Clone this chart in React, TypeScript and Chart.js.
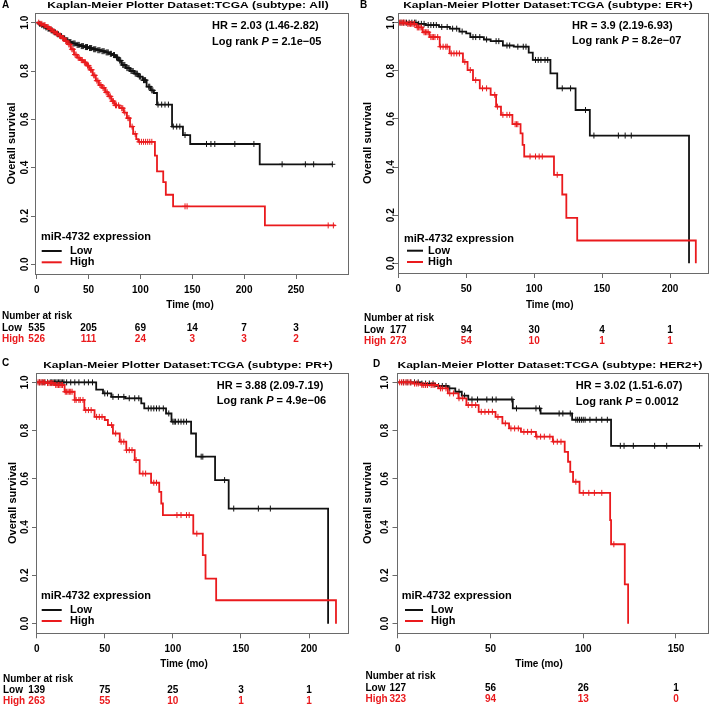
import React, { useEffect, useRef } from "react";
import { Chart, registerables } from "chart.js";
Chart.register(...registerables);

const FONT = "'Liberation Sans', Arial, Helvetica, sans-serif";
const BLACK = "#111111";
const RED = "#ea1a1d";
const AXIS = "#6a6a6a";

// ---------------- tick labels ----------------
const yTicks = [0, 0.2, 0.4, 0.6, 0.8, 1.0];
const yTickLabels = ["0.0", "0.2", "0.4", "0.6", "0.8", "1.0"];
const xTicksA = [0, 50, 100, 150, 200, 250];
const xTicksB = [0, 50, 100, 150, 200];
const xTicksC = [0, 50, 100, 150, 200];
const xTicksD = [0, 50, 100, 150];

// ---------------- texts ----------------
const letters = ["A", "B", "C", "D"];
const titles = [
  "Kaplan-Meier Plotter Dataset:TCGA (subtype: All)",
  "Kaplan-Meier Plotter Dataset:TCGA (subtype: ER+)",
  "Kaplan-Meier Plotter Dataset:TCGA (subtype: PR+)",
  "Kaplan-Meier Plotter Dataset:TCGA (subtype: HER2+)",
];
const hrTexts = ["HR = 2.03 (1.46-2.82)", "HR = 3.9 (2.19-6.93)", "HR = 3.88 (2.09-7.19)", "HR = 3.02 (1.51-6.07)"];
const pValues = ["2.1e\u221205", "8.2e\u221207", "4.9e\u221206", "0.0012"];
const groups = ["Low", "High"];

// ---------------- Panel A ----------------
const timesLowA = [0, 2, 4, 6, 8, 10, 13, 16, 19, 22, 25, 28, 31, 34, 38, 42, 46, 50, 54, 58, 62, 66, 70, 73, 76, 79, 82, 86, 90, 94, 98, 102, 106, 110, 113, 116, 130.5, 141, 148, 215, 285];
const survLowA = [1, 0.995, 0.99, 0.985, 0.98, 0.975, 0.968, 0.96, 0.952, 0.944, 0.935, 0.927, 0.92, 0.914, 0.908, 0.903, 0.899, 0.895, 0.89, 0.886, 0.882, 0.877, 0.871, 0.866, 0.856, 0.843, 0.825, 0.812, 0.8, 0.789, 0.777, 0.762, 0.735, 0.72, 0.709, 0.661, 0.57, 0.535, 0.498, 0.414, 0.414];
const censorLowA = [3, 5, 7, 9, 11, 12, 14, 15, 17, 18, 20, 21, 23, 24, 26, 27, 29, 30, 32, 33, 35, 36, 37, 39, 40, 41, 43, 44, 45, 47, 48, 49, 51, 52, 53, 55, 56, 57, 59, 60, 61, 63, 64, 65, 67, 68, 69, 71, 72, 74, 75, 77, 78, 80, 81, 83, 84, 85, 87, 88, 89, 91, 92, 93, 95, 96, 97, 99, 100, 103, 104, 105, 108, 109, 111, 112, 117, 120.5, 123.7, 127, 131.7, 135, 138, 143, 163.7, 168, 171.7, 191, 209.4, 236.6, 259, 267, 285];
const timesHighA = [0, 3, 6, 9, 12, 15, 18, 21, 24, 27, 30, 33, 36, 39, 42, 45, 48, 51, 54, 57, 60, 63, 66, 69, 72, 75, 80, 84, 87, 90, 93, 96, 98, 114, 116, 122, 124.5, 131.5, 220, 288];
const survHighA = [1, 0.995, 0.99, 0.982, 0.973, 0.963, 0.955, 0.946, 0.936, 0.924, 0.91, 0.89, 0.868, 0.855, 0.845, 0.836, 0.822, 0.805, 0.782, 0.76, 0.742, 0.73, 0.712, 0.695, 0.675, 0.658, 0.646, 0.628, 0.605, 0.57, 0.54, 0.518, 0.507, 0.45, 0.385, 0.34, 0.288, 0.24, 0.161, 0.161];
const censorHighA = [2, 4, 5, 7, 8, 10, 11, 13, 14, 16, 17, 19, 20, 22, 23, 25, 26, 28, 29, 31, 32, 34, 35, 37, 38, 40, 41, 43, 44, 46, 47, 49, 50, 52, 53, 55, 56, 58, 59, 61, 62, 64, 65, 67, 68, 70, 71, 73, 74, 76, 77, 79, 82, 83, 85, 88, 89, 92, 95, 99, 101, 103, 105, 107, 109, 111, 143, 145, 281, 286];
const riskLowA = [535, 205, 69, 14, 7, 3];
const riskHighA = [526, 111, 24, 3, 3, 2];

// ---------------- Panel B ----------------
const timesLowB = [0, 14, 20, 30, 38, 45, 50, 53, 63, 68, 77, 85, 96, 99, 112, 117, 130.5, 141, 214];
const survLowB = [1, 0.995, 0.99, 0.982, 0.975, 0.963, 0.955, 0.94, 0.93, 0.923, 0.905, 0.9, 0.875, 0.845, 0.789, 0.727, 0.637, 0.531, 0];
const censorLowB = [2, 4, 6, 8, 10, 12, 13, 15, 17, 19, 22, 24, 26, 28, 32, 36, 40, 43, 47, 55, 57, 60, 65, 72, 74, 80, 82, 88, 92, 94, 101, 103, 105, 108, 110, 120.7, 126.8, 137.8, 144, 162, 167, 171.5];
const timesHighB = [0, 6, 13.4, 18, 23, 30.5, 37.8, 47.6, 51, 55, 60, 68, 72, 75.6, 84, 90, 91.5, 92.7, 114.6, 120.7, 123.7, 131.7, 219];
const survHighB = [1, 0.995, 0.98, 0.96, 0.94, 0.9, 0.872, 0.837, 0.803, 0.761, 0.727, 0.7, 0.651, 0.617, 0.578, 0.54, 0.492, 0.444, 0.368, 0.286, 0.189, 0.095, 0];
const censorHighB = [1, 2, 3, 4, 5, 7, 8, 9, 10, 11, 12, 14, 15, 16, 17, 19, 20, 21, 22, 24, 25, 26, 27, 29, 31, 33, 35, 36, 39, 41, 43, 45, 49, 53, 57, 62, 65, 71, 73, 77, 80, 82, 86, 87, 88, 97, 101, 103.7, 106, 117];
const riskLowB = [177, 94, 30, 4, 1];
const riskHighB = [273, 54, 10, 1, 1];

// ---------------- Panel C ----------------
const timesLowC = [0, 43.7, 48.7, 54.8, 65, 76.8, 79, 95, 99, 113.4, 117, 131, 141, 214];
const survLowC = [1, 0.97, 0.954, 0.94, 0.934, 0.913, 0.892, 0.871, 0.837, 0.788, 0.692, 0.595, 0.477, 0];
const censorLowC = [2, 4, 6, 8, 10, 11, 12, 13, 14, 15, 16, 17, 18, 19, 20, 22, 25, 28, 31, 35, 38, 41, 50, 52, 56, 60, 64, 68, 72, 75, 82, 84, 86, 88, 90, 93, 97, 100, 101, 102, 104, 106, 108, 110, 120.8, 122, 138, 144.7, 162.8, 171.6];
const timesHighC = [0, 7, 13, 20.5, 27.9, 35, 42.5, 50, 52.3, 56, 61, 65.8, 72, 75.6, 84, 90, 91.5, 92.7, 115, 122, 124, 131.8, 219.8];
const survHighC = [1, 0.997, 0.989, 0.961, 0.927, 0.885, 0.857, 0.844, 0.823, 0.788, 0.754, 0.719, 0.678, 0.622, 0.584, 0.546, 0.498, 0.45, 0.373, 0.284, 0.187, 0.097, 0];
const censorHighC = [1, 2, 3, 4, 5, 6, 8, 9, 10, 11, 12, 14, 15, 16, 17, 18, 19, 21, 22, 23, 24, 25, 26, 28, 29, 31, 32, 34, 36, 38, 40, 44, 46, 48, 55, 58, 62, 64, 66, 68, 70, 73, 78, 80, 86, 88, 103, 106, 110, 112, 117.6];
const riskLowC = [139, 75, 25, 3, 1];
const riskHighC = [263, 55, 10, 1, 1];

// ---------------- Panel D ----------------
const timesLowD = [0, 12.7, 20, 27, 31, 34.5, 38, 62, 77, 94, 115, 162.7];
const survLowD = [1, 0.995, 0.985, 0.975, 0.961, 0.945, 0.929, 0.892, 0.871, 0.845, 0.737, 0.737];
const censorLowD = [3, 5, 7, 9, 11, 13, 15, 17, 19, 22, 24, 26, 28, 33, 36, 40, 43, 48, 51, 53, 61.5, 64, 74.5, 76.4, 87, 89, 93, 96, 97, 98, 99, 100, 101, 103.6, 107, 110, 113, 120, 122, 127, 138.5, 145, 162.7];
const timesHighD = [0, 8, 12.7, 21.8, 27, 32.7, 37, 43.6, 52.7, 56.4, 60, 66.4, 74.5, 83.6, 90, 91.8, 93, 94.5, 98, 114.5, 115, 122.4, 124.2];
const survHighD = [1, 0.995, 0.989, 0.975, 0.954, 0.934, 0.906, 0.878, 0.857, 0.83, 0.809, 0.795, 0.775, 0.754, 0.712, 0.671, 0.629, 0.588, 0.542, 0.429, 0.329, 0.163, 0];
const censorHighD = [1, 2, 3, 4, 5, 6, 7, 9, 10, 11, 13, 14, 15, 16, 18, 19, 20, 23, 24, 26, 28, 30, 33, 35, 38, 40, 42, 45, 47, 49, 51, 54, 58, 61, 63, 65, 68, 70, 72, 75, 77, 79, 82, 84, 86, 88, 96, 100, 103, 106, 110, 116.5];
const riskLowD = [127, 56, 26, 1];
const riskHighD = [323, 94, 13, 0];

const panelData = [
  { xTicks: xTicksA, tl: timesLowA, sl: survLowA, cl: censorLowA, th: timesHighA, sh: survHighA, ch: censorHighA, rl: riskLowA, rh: riskHighA },
  { xTicks: xTicksB, tl: timesLowB, sl: survLowB, cl: censorLowB, th: timesHighB, sh: survHighB, ch: censorHighB, rl: riskLowB, rh: riskHighB },
  { xTicks: xTicksC, tl: timesLowC, sl: survLowC, cl: censorLowC, th: timesHighC, sh: survHighC, ch: censorHighC, rl: riskLowC, rh: riskHighC },
  { xTicks: xTicksD, tl: timesLowD, sl: survLowD, cl: censorLowD, th: timesHighD, sh: survHighD, ch: censorHighD, rl: riskLowD, rh: riskHighD },
];

// ---------------- layout (positions only) ----------------
const layouts = [
  { left: 0, top: 0, w: 355, h: 350, area: { l: 35, r: 348, t: 13, b: 274 }, xMin: -1.6, xMax: 300.1,
    letter: [2, 5.5], title: [188, 5.5], hr: [212, 26, 42], yTickX: 25, yLabX: 12,
    leg: { x: 41, y: 237, l1: 41.7, l2: 61.7, tx: 70, lowY: 251, highY: 262.3 },
    time: [190, 305.5], nar: { x: 2, y: 316.7, low: 328, high: 339.3 } },
  { left: 355, top: 0, w: 354, h: 350, area: { l: 43, r: 352.5, t: 13, b: 273 }, xMin: -0.2, xMax: 227.6,
    letter: [5, 5.5], title: [193, 5.5], hr: [217, 26, 41], yTickX: 36, yLabX: 13,
    leg: { x: 49, y: 239, l1: 52, l2: 68, tx: 73, lowY: 250.7, highY: 262 },
    time: [194.7, 305.7], nar: { x: 9, y: 318, low: 330, high: 341.3 } },
  { left: 0, top: 350, w: 355, h: 357, area: { l: 36, r: 347.7, t: 22.7, b: 283.3 }, xMin: -0.5, xMax: 228.4,
    letter: [2, 13.3], title: [188, 15], hr: [216.7, 36, 50.7], yTickX: 25, yLabX: 13,
    leg: { x: 41, y: 245.7, l1: 41.7, l2: 61.7, tx: 70, lowY: 260, highY: 271 },
    time: [184, 314], nar: { x: 3, y: 329, low: 340.3, high: 351.3 } },
  { left: 355, top: 350, w: 354, h: 357, area: { l: 41.5, r: 352.5, t: 22.7, b: 283.3 }, xMin: -0.7, xMax: 167,
    letter: [18, 14], title: [195, 15], hr: [220.7, 36, 51.7], yTickX: 30, yLabX: 13,
    leg: { x: 46.7, y: 246, l1: 50, l2: 68, tx: 76, lowY: 260, highY: 271 },
    time: [184, 314], nar: { x: 10.5, y: 326.7, low: 338, high: 349 } },
];

function survAt(times: number[], surv: number[], t: number) {
  let s = surv[0];
  for (let i = 0; i < times.length; i++) if (times[i] <= t) s = surv[i];
  return s;
}

const bold = (size: number) => `bold ${size}px ${FONT}`;

function Panel({ idx }: { idx: number }) {
  const ref = useRef<HTMLCanvasElement>(null);
  const L = layouts[idx];
  useEffect(() => {
    const D = panelData[idx];
    const stepLine = (times: number[], surv: number[], color: string, order: number) => ({
      data: times.map((t, i) => ({ x: t, y: surv[i] })),
      showLine: true,
      stepped: "before",
      borderColor: color,
      backgroundColor: color,
      borderWidth: 1.8,
      pointRadius: 0,
      pointHoverRadius: 0,
      fill: false,
      order,
    });
    const marks = (cens: number[], times: number[], surv: number[], color: string, order: number) => ({
      data: cens.map((t) => ({ x: t, y: survAt(times, surv, t) })),
      showLine: false,
      pointStyle: "cross",
      pointRadius: 3,
      pointHoverRadius: 3,
      pointBorderWidth: 1,
      borderColor: color,
      backgroundColor: color,
      order,
    });

    const text = (ctx: CanvasRenderingContext2D, s: string, x: number, y: number, font: string, color: string, align: CanvasTextAlign) => {
      ctx.font = font;
      ctx.fillStyle = color;
      ctx.textAlign = align;
      ctx.textBaseline = "middle";
      ctx.fillText(s, x, y);
    };

    const kmPlugin = {
      id: "kmText",
      afterDraw(chart: any) {
        const ctx: CanvasRenderingContext2D = chart.ctx;
        const { left, right, top, bottom } = chart.chartArea;
        const xs = chart.scales.x;
        const ys = chart.scales.y;
        ctx.save();
        // box
        ctx.strokeStyle = AXIS;
        ctx.lineWidth = 1;
        ctx.strokeRect(Math.round(left) + 0.5, Math.round(top) + 0.5, Math.round(right) - Math.round(left), Math.round(bottom) - Math.round(top));
        // y tick labels (rotated)
        yTicks.forEach((v, i) => {
          ctx.save();
          ctx.translate(L.yTickX, ys.getPixelForValue(v));
          ctx.rotate(-Math.PI / 2);
          text(ctx, yTickLabels[i], 0, 0, bold(10), "#000", "center");
          ctx.restore();
        });
        // y axis title
        ctx.save();
        ctx.translate(L.yLabX, (top + bottom) / 2);
        ctx.rotate(-Math.PI / 2);
        text(ctx, "Overall survival", 0, 0, bold(11), "#000", "center");
        ctx.restore();
        // letter & title (title slightly squashed vertically like the source)
        text(ctx, letters[idx], L.letter[0], L.letter[1], bold(10), "#000", "left");
        ctx.save();
        ctx.translate(L.title[0], L.title[1]);
        ctx.scale(1, 0.8);
        text(ctx, titles[idx], 0, 0, bold(12), "#000", "center");
        ctx.restore();
        // HR and log rank
        text(ctx, hrTexts[idx], L.hr[0], L.hr[1], bold(11), "#000", "left");
        let x = L.hr[0];
        const parts: [string, string][] = [
          ["Log rank ", bold(11)],
          ["P", `italic bold 11px ${FONT}`],
          [" = " + pValues[idx], bold(11)],
        ];
        parts.forEach(([s, f]) => {
          text(ctx, s, x, L.hr[2], f, "#000", "left");
          ctx.font = f;
          x += ctx.measureText(s).width;
        });
        // legend
        text(ctx, "miR-4732 expression", L.leg.x, L.leg.y, bold(11), "#000", "left");
        ctx.lineWidth = 2;
        ctx.strokeStyle = BLACK;
        ctx.beginPath();
        ctx.moveTo(L.leg.l1, L.leg.lowY);
        ctx.lineTo(L.leg.l2, L.leg.lowY);
        ctx.stroke();
        ctx.strokeStyle = RED;
        ctx.beginPath();
        ctx.moveTo(L.leg.l1, L.leg.highY);
        ctx.lineTo(L.leg.l2, L.leg.highY);
        ctx.stroke();
        text(ctx, groups[0], L.leg.tx, L.leg.lowY, bold(11), "#000", "left");
        text(ctx, groups[1], L.leg.tx, L.leg.highY, bold(11), "#000", "left");
        // x title
        text(ctx, "Time (mo)", L.time[0], L.time[1], bold(10), "#000", "center");
        // risk table
        text(ctx, "Number at risk", L.nar.x, L.nar.y, bold(10), "#000", "left");
        text(ctx, groups[0], L.nar.x, L.nar.low, bold(10), "#000", "left");
        text(ctx, groups[1], L.nar.x, L.nar.high, bold(10), RED, "left");
        D.xTicks.forEach((t, i) => {
          const px = xs.getPixelForValue(t);
          text(ctx, String(D.rl[i]), px, L.nar.low, bold(10), "#000", "center");
          text(ctx, String(D.rh[i]), px, L.nar.high, bold(10), RED, "center");
        });
        ctx.restore();
      },
    };

    const chart = new Chart(ref.current as HTMLCanvasElement, {
      type: "scatter",
      data: {
        datasets: [
          stepLine(D.th, D.sh, RED, 0),
          marks(D.ch, D.th, D.sh, RED, 0),
          stepLine(D.tl, D.sl, BLACK, 1),
          marks(D.cl, D.tl, D.sl, BLACK, 1),
        ] as any,
      },
      options: {
        responsive: false,
        animation: false,
        devicePixelRatio: 1,
        events: [],
        layout: {
          autoPadding: false,
          padding: { left: 0, right: L.w - L.area.r, top: L.area.t, bottom: 0 },
        },
        plugins: { legend: { display: false }, tooltip: { enabled: false }, title: { display: false } },
        scales: {
          x: {
            type: "linear",
            position: "bottom",
            min: L.xMin,
            max: L.xMax,
            afterBuildTicks: (s: any) => {
              s.ticks = D.xTicks.map((v) => ({ value: v }));
            },
            afterFit: (s: any) => {
              s.height = L.h - L.area.b;
            },
            ticks: {
              autoSkip: false,
              maxRotation: 0,
              minRotation: 0,
              padding: 5,
              color: "#000",
              font: { family: FONT, size: 10, weight: "bold" },
              callback: (v: any) => String(v),
            },
            grid: { display: true, drawOnChartArea: false, drawTicks: true, tickLength: 5, color: AXIS, lineWidth: 1 },
            border: { display: false },
          },
          y: {
            type: "linear",
            position: "left",
            min: -0.04,
            max: 1.04,
            afterBuildTicks: (s: any) => {
              s.ticks = yTicks.map((v) => ({ value: v }));
            },
            afterFit: (s: any) => {
              s.width = L.area.l;
            },
            ticks: { display: false },
            grid: { display: true, drawOnChartArea: false, drawTicks: true, tickLength: 4, color: AXIS, lineWidth: 1 },
            border: { display: false },
          },
        },
      } as any,
      plugins: [kmPlugin],
    });
    return () => chart.destroy();
  }, [idx]);
  return (
    <canvas
      ref={ref}
      width={L.w}
      height={L.h}
      style={{ position: "absolute", left: L.left, top: L.top, width: L.w, height: L.h }}
    />
  );
}

export default function App() {
  return (
    <div style={{ position: "fixed", left: 0, top: 0, width: 709, height: 707, background: "#ffffff", overflow: "hidden" }}>
      {[0, 1, 2, 3].map((i) => (
        <Panel key={i} idx={i} />
      ))}
    </div>
  );
}
